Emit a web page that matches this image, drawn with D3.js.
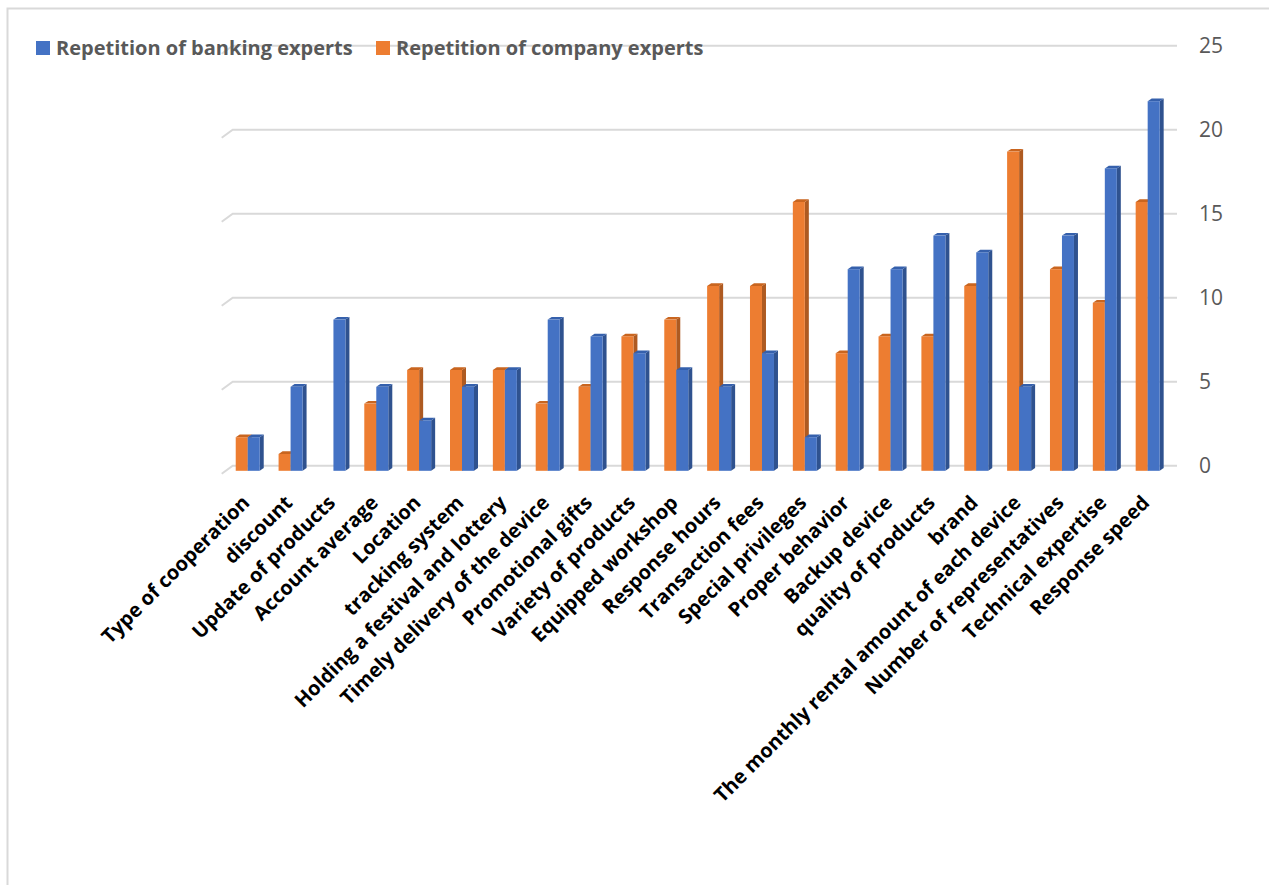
<!DOCTYPE html>
<html>
<head>
<meta charset="utf-8">
<script src="https://cdn.jsdelivr.net/npm/d3@7"></script>
<style>
  html, body { margin: 0; padding: 0; background: #ffffff; }
  svg { display: block; }
</style>
</head>
<body>
<svg id="chart" width="1269" height="885"></svg>
<script>
const categories = [
  "Type of cooperation", "discount", "Update of products", "Account average",
  "Location", "tracking system", "Holding a festival and lottery",
  "Timely delivery of the device", "Promotional gifts", "Variety of products",
  "Equipped workshop", "Response hours", "Transaction fees", "Special privileges",
  "Proper behavior", "Backup device", "quality of products", "brand",
  "The monthly rental amount of each device", "Number of representatives",
  "Technical expertise", "Response speed"
];
const bankingExperts = [2, 5, 9, 5, 3, 5, 6, 9, 8, 7, 6, 5, 7, 2, 12, 12, 14, 13, 5, 14, 18, 22];
const companyExperts = [2, 1, 0, 4, 6, 6, 6, 4, 5, 8, 9, 11, 11, 16, 7, 8, 8, 11, 19, 12, 10, 16];
const yTicks = [0, 5, 10, 15, 20, 25];
const seriesNames = ["Repetition of banking experts", "Repetition of company experts"];

const svg = d3.select("#chart");

// outer chart border (left & top visible)
svg.append("path")
  .attr("d", "M7.5,885 L7.5,8.5 L1269,8.5")
  .attr("fill", "none").attr("stroke", "#d9d9d9").attr("stroke-width", 2);

const y = d3.scaleLinear().domain([0, 25]).range([465.8, 45.8]);
const frontOffset = 5;           // front plane is lower than back wall
const x = d3.scaleBand().domain(categories).range([226.3, 1169.1]).paddingInner(0).paddingOuter(0);
const barW = 12, depthX = 4, depthY = 2.7;
const wallLeft = 232.7, wallRight = 1177, slantX = 11, slantY = 8;

// gridlines with side-wall slant
const grid = svg.append("g");
yTicks.forEach(t => {
  const yy = y(t);
  grid.append("path")
    .attr("d", `M${wallLeft - slantX},${yy + slantY} L${wallLeft},${yy} L${wallRight},${yy}`)
    .attr("fill", "none").attr("stroke", "#d9d9d9").attr("stroke-width", 2);
});

// right value axis labels
const axis = d3.axisRight(y).tickValues(yTicks).tickSize(0).tickPadding(0);
const axG = svg.append("g").attr("transform", `translate(1199,0)`).call(axis);
axG.select(".domain").remove();
axG.selectAll("text")
  .attr("font-family", "'Open Sans', sans-serif")
  .attr("font-size", 21)
  .attr("fill", "#595959")
  .attr("x", 0);

function drawBar(g, x0, v, colors) {
  const yb = y(0) + frontOffset;
  const yt = y(v) + frontOffset;
  g.append("path")
    .attr("d", `M${x0 + barW},${yt} L${x0 + barW + depthX},${yt - depthY} L${x0 + barW + depthX},${yb - depthY} L${x0 + barW},${yb} Z`)
    .attr("fill", colors.side);
  g.append("path")
    .attr("d", `M${x0},${yt} L${x0 + depthX},${yt - depthY} L${x0 + barW + depthX},${yt - depthY} L${x0 + barW},${yt} Z`)
    .attr("fill", colors.top);
  g.append("rect")
    .attr("x", x0).attr("y", yt)
    .attr("width", barW).attr("height", yb - yt)
    .attr("fill", colors.front);
}

const orange = { front: "#ED7D31", side: "#AE5A21", top: "#C9651F" };
const blue = { front: "#4472C4", side: "#2F528F", top: "#3560AC" };

const bars = svg.append("g");
categories.forEach((c, i) => {
  const x0 = x(c) + (x.bandwidth() - 2 * barW) / 2;
  const g = bars.append("g");
  if (companyExperts[i] > 0) drawBar(g, x0, companyExperts[i], orange);
  if (bankingExperts[i] > 0) drawBar(g, x0 + barW, bankingExperts[i], blue);
});

// category labels
const labels = svg.append("g");
categories.forEach(c => {
  const cx = x(c) + x.bandwidth() / 2 + 3;
  labels.append("text")
    .attr("transform", `translate(${cx},${504}) rotate(-45)`)
    .attr("text-anchor", "end")
    .attr("font-family", "'Open Sans', sans-serif")
    .attr("font-weight", "bold")
    .attr("font-size", 20)
    .attr("fill", "#000000")
    .text(c);
});

// legend
const legend = svg.append("g");
const legendItems = [
  { name: seriesNames[0], color: blue.front, x: 36 },
  { name: seriesNames[1], color: orange.front, x: 376 }
];
legendItems.forEach(it => {
  legend.append("rect").attr("x", it.x).attr("y", 41).attr("width", 14).attr("height", 14).attr("fill", it.color);
  legend.append("text")
    .attr("x", it.x + 20).attr("y", 55)
    .attr("font-family", "'Open Sans', sans-serif")
    .attr("font-weight", "bold")
    .attr("font-size", 20)
    .attr("fill", "#595959")
    .text(it.name);
});
</script>
</body>
</html>
